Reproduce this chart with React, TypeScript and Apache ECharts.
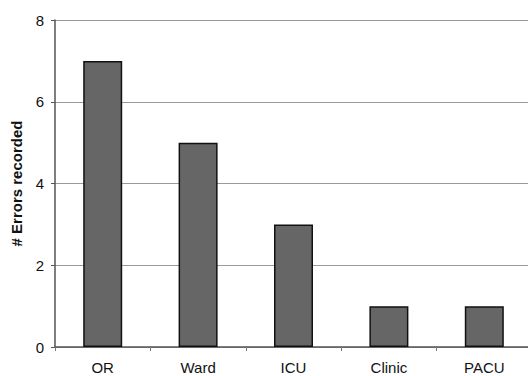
import React, { useEffect, useRef } from "react";
import * as echarts from "echarts";

const categories = ["OR", "Ward", "ICU", "Clinic", "PACU"];
const errorCounts = [7, 5, 3, 1, 1];
const yTicks = [0, 2, 4, 6, 8];

export default function App() {
  const ref = useRef<HTMLDivElement>(null);
  useEffect(() => {
    if (!ref.current) return;
    const chart = echarts.init(ref.current, undefined, { renderer: "svg" });
    chart.setOption({
      animation: false,
      backgroundColor: "#ffffff",
      textStyle: { fontFamily: "Liberation Sans, Arial, sans-serif" },
      grid: {
        left: 55,
        top: 20,
        width: 477,
        height: 327,
        containLabel: false,
        outerBoundsMode: "none",
      },
      xAxis: {
        type: "category",
        data: categories,
        axisLine: { show: true, lineStyle: { color: "#555", width: 1.5 } },
        axisTick: { show: true, length: 4, lineStyle: { color: "#777" } },
        axisLabel: { color: "#111", fontSize: 15, margin: 13 },
      },
      yAxis: {
        type: "value",
        min: yTicks[0],
        max: yTicks[yTicks.length - 1],
        interval: 2,
        name: "# Errors recorded",
        nameLocation: "middle",
        nameGap: 31,
        nameTextStyle: { fontSize: 15, fontWeight: "bold", color: "#111" },
        axisLine: { show: true, lineStyle: { color: "#555", width: 1.5 } },
        axisTick: { show: true, length: 4, lineStyle: { color: "#555" } },
        axisLabel: { color: "#111", fontSize: 15, margin: 11 },
        splitLine: { show: true, lineStyle: { color: "#9a9a9a", width: 1 } },
      },
      series: [
        {
          type: "bar",
          data: errorCounts,
          barWidth: 39,
          itemStyle: { color: "#666666", borderColor: "#111", borderWidth: 1.5 },
        },
      ],
    });
    return () => chart.dispose();
  }, []);
  return (
    <div
      ref={ref}
      style={{ position: "fixed", left: 0, top: 0, width: 528, height: 376 }}
    />
  );
}
